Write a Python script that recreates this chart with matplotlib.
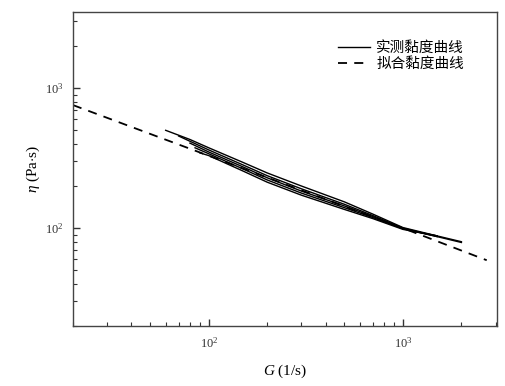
import matplotlib
matplotlib.use("Agg")
import matplotlib.pyplot as plt
from matplotlib.ticker import LogLocator, NullFormatter

plt.rcParams['font.family'] = ['Liberation Serif', 'Noto Sans CJK SC', 'DejaVu Sans']
plt.rcParams['mathtext.fontset'] = 'custom'
plt.rcParams['mathtext.rm'] = 'Liberation Serif'
plt.rcParams['mathtext.it'] = 'Liberation Serif:italic'

# measured viscosity curves (several tests)
g1 = [60, 80, 100, 150, 200, 300, 500, 700, 1000, 1500, 2000]
eta1 = [500, 430, 375, 295, 248, 200, 154, 126, 101, 88, 80]
g2 = [70, 100, 150, 200, 300, 500, 700, 1000, 1500, 2000]
eta2 = [455, 362, 283, 237, 191, 148, 123, 100, 87, 79]
g3 = [80, 100, 150, 200, 300, 500, 700, 1000, 1500]
eta3 = [405, 350, 274, 229, 184, 144, 121, 99, 87]
g4 = [85, 100, 150, 200, 300, 500, 700, 1000, 1500]
eta4 = [375, 340, 265, 221, 178, 140, 119, 99, 88]
g5 = [90, 100, 150, 200, 300, 500, 700, 1000, 1500]
eta5 = [345, 330, 256, 213, 172, 136, 117, 98, 88]

# fitted curve
g_fit = [20, 100, 1000, 2700]
eta_fit = [757, 329, 100, 59]

label_meas = '实测黏度曲线'
label_fit = '拟合黏度曲线'

fig = plt.figure(figsize=(5.06, 3.86), dpi=100)
ax = fig.add_axes([73/506, 1-326/386, (497-73)/506, (326-12)/386])

measured = [(g1, eta1), (g2, eta2), (g3, eta3), (g4, eta4), (g5, eta5)]
for i, (g, e) in enumerate(measured):
    ax.plot(g, e, color='black', lw=1.0,
            label=label_meas if i == 0 else None)
ax.plot(g_fit, eta_fit, color='black', lw=1.3, ls=(0, (5, 4)), label=label_fit)

ax.set_xscale('log')
ax.set_yscale('log')
ax.set_xlim(20, 3050)
ax.set_ylim(20, 3500)

ax.xaxis.set_major_locator(LogLocator(base=10, numticks=10))
ax.yaxis.set_major_locator(LogLocator(base=10, numticks=10))
ax.xaxis.set_minor_locator(LogLocator(base=10, subs=range(2, 10), numticks=20))
ax.yaxis.set_minor_locator(LogLocator(base=10, subs=range(2, 10), numticks=20))
ax.xaxis.set_minor_formatter(NullFormatter())
ax.yaxis.set_minor_formatter(NullFormatter())

ax.tick_params(which='both', direction='in', top=False, right=False,
               labelsize=9, colors='#333333')
ax.tick_params(which='major', length=5, width=1.0, pad=7)
ax.tick_params(which='minor', length=3, width=0.8)
for s in ax.spines.values():
    s.set_color('#444444')
    s.set_linewidth(1.0)

ax.set_xlabel(r'$G$ (1/s)', fontsize=11, labelpad=9)
ax.set_ylabel(r'$\eta$ (Pa$\cdot$s)', fontsize=11, labelpad=2)

leg = ax.legend(loc='upper right', bbox_to_anchor=(0.943, 0.935), frameon=False,
                prop={'family': ['Noto Sans CJK SC'], 'size': 10.5},
                handlelength=2.2, handletextpad=0.4, labelspacing=0.15,
                borderaxespad=0.2)

fig.savefig('out.png', dpi=100)
